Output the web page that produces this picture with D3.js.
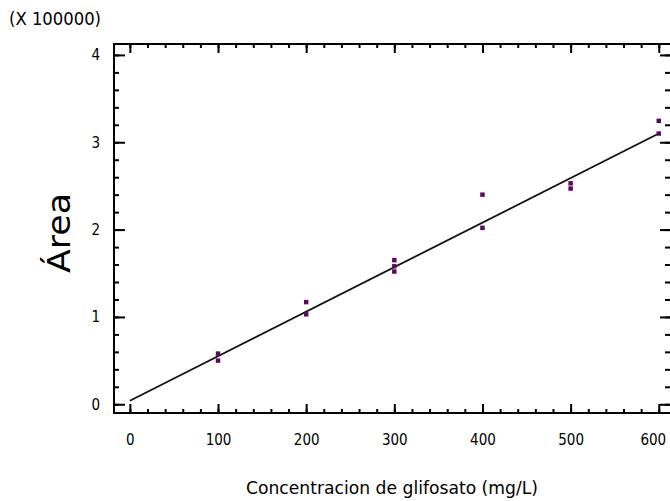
<!DOCTYPE html>
<html><head><meta charset="utf-8">
<script src="https://cdn.jsdelivr.net/npm/d3@7"></script>
<style>
body{margin:0;background:#fff;}
svg{display:block;}
text{font-family:"DejaVu Sans Condensed","DejaVu Sans",sans-serif;fill:#000;}
</style></head><body>
<svg id="c" width="670" height="501"></svg>
<script>
const concX = [100,100,200,200,300,300,300,400,400,500,500,600,600];
const areaY = [0.58,0.50,1.17,1.03,1.65,1.58,1.52,2.40,2.02,2.53,2.47,3.245,3.10];
const fitX = [0,600];
const fitY = [0.04,3.10];
const xTicks = [0,100,200,300,400,500,600];
const xTickLabels = ["0","100","200","300","400","500","600"];
const yTicks = [0,1,2,3,4];
const yTickLabels = ["0","1","2","3","4"];
const xMinor = d3.range(0,620,20);
const yMinor = d3.range(0,4.11,0.2);

const svg = d3.select("#c");
const L=114,T=44,R=672,B=413;
const x = d3.scaleLinear().domain([-18,615]).range([L,R]);
const y = d3.scaleLinear().domain([-0.1,4.125]).range([B,T]);

function styleAxis(g){g.select(".domain").remove();g.selectAll("line").attr("stroke","#000").attr("stroke-width",2);}

// minor ticks
svg.append("g").attr("transform",`translate(0,${B})`).call(d3.axisBottom(x).tickValues(xMinor).tickSize(-4).tickFormat("")).call(styleAxis);
svg.append("g").attr("transform",`translate(0,${T})`).call(d3.axisTop(x).tickValues(xMinor).tickSize(-4).tickFormat("")).call(styleAxis);
svg.append("g").attr("transform",`translate(${L},0)`).call(d3.axisLeft(y).tickValues(yMinor).tickSize(-5).tickFormat("")).call(styleAxis);
svg.append("g").attr("transform",`translate(${R-2},0)`).call(d3.axisRight(y).tickValues(yMinor).tickSize(-5).tickFormat("")).call(styleAxis);
// major ticks
svg.append("g").attr("transform",`translate(0,${T})`).call(d3.axisTop(x).tickValues(xTicks).tickSize(-9).tickFormat("")).call(styleAxis);
svg.append("g").attr("transform",`translate(${R-2},0)`).call(d3.axisRight(y).tickValues(yTicks).tickSize(-10).tickFormat("")).call(styleAxis);
const xa = svg.append("g").attr("transform",`translate(0,${B})`)
  .call(d3.axisBottom(x).tickValues(xTicks).tickSize(-9).tickPadding(27).tickFormat((d,i)=>xTickLabels[i])).call(styleAxis);
xa.selectAll("text").attr("font-size",15).attr("dy","0.32em");
xa.selectAll(".tick").filter(d=>d===600).select("text").attr("dx",-6);
const ya = svg.append("g").attr("transform",`translate(${L},0)`)
  .call(d3.axisLeft(y).tickValues(yTicks).tickSize(-11).tickPadding(14).tickFormat((d,i)=>yTickLabels[i])).call(styleAxis);
ya.selectAll("text").attr("font-size",15);

// frame
svg.append("rect").attr("x",L).attr("y",T).attr("width",R-L).attr("height",B-T)
  .attr("fill","none").attr("stroke","#000").attr("stroke-width",2);

// fit line
svg.append("path").datum(fitX.map((d,i)=>[d,fitY[i]]))
  .attr("d",d3.line().x(d=>x(d[0])).y(d=>y(d[1])))
  .attr("fill","none").attr("stroke","#111").attr("stroke-width",1.8);

// points
svg.append("g").selectAll("path").data(concX.map((d,i)=>[d,areaY[i]])).join("path")
  .attr("transform",d=>`translate(${x(d[0])},${y(d[1])})`)
  .attr("d",d3.symbol().type(d3.symbolSquare).size(20))
  .attr("fill","#5a0a5a");

// labels
svg.append("text").attr("x",9).attr("y",25).attr("font-size",17).attr("textLength",92)
  .attr("lengthAdjust","spacingAndGlyphs").text("(X 100000)");
svg.append("text").attr("x",392).attr("y",494).attr("text-anchor","middle").attr("font-size",18)
  .attr("textLength",292).attr("lengthAdjust","spacingAndGlyphs").text("Concentracion de glifosato (mg/L)");
svg.append("text").attr("transform","translate(70,233) rotate(-90)").attr("text-anchor","middle")
  .attr("font-size",32).attr("textLength",80).attr("lengthAdjust","spacingAndGlyphs").text("Área");
</script></body></html>
